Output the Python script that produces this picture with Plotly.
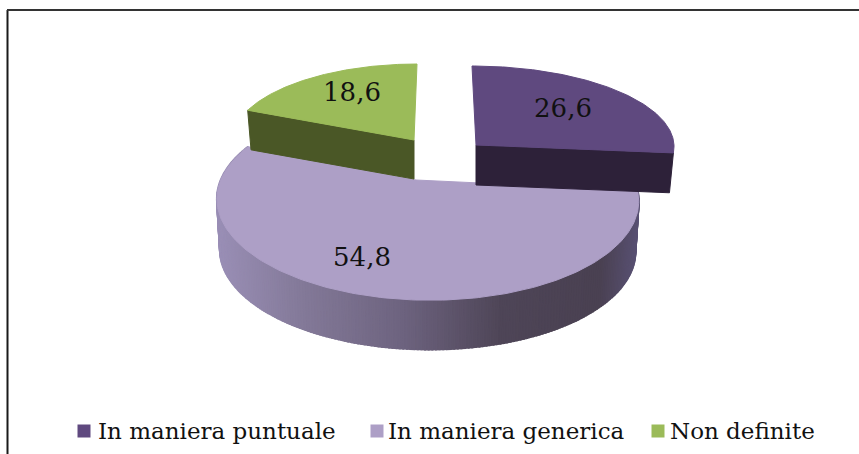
import numpy as np
import plotly.graph_objects as go

# data
categories = ["In maniera puntuale", "In maniera generica", "Non definite"]
values = [26.6, 54.8, 18.6]
value_labels = ["26,6", "54,8", "18,6"]

# colours
top_colors = ["#5f497f", "#ad9fc6", "#9bbb59"]
side_colors = ["#2d2139", None, "#4a5726"]
TEXT_COLOR = "#111111"
FONT = "DejaVu Serif"

# gradient on the outer wall of the big slice, left to right on screen
wall_x = [217, 300, 400, 500, 600, 640]
wall_rgb = [(154, 143, 182), (132, 122, 153), (110, 100, 128),
            (79, 70, 88), (74, 65, 82), (90, 82, 117)]

# each slice has its own projection on screen (apex, radii, perspective)
slice_views = [
    dict(ax=476, ay=145, b=198, a=79, k=0, m=0, lean=-4, depth=40, shrink=0.98),
    dict(ax=416, ay=180, b=206, a=96, k=0.2, m=-0.055, lean=0, depth=51, shrink=0.985),
    dict(ax=414, ay=140, b=182, a=76, k=0, m=0, lean=3, depth=39, shrink=0.98),
]
label_pos = [(563, 110), (362, 259), (352, 94)]
legend_marks = [84, 377, 658]
legend_text = [97, 387, 669]
LEGEND_Y = 431


def project(view, theta, floor=False):
    """Disc angle (clockwise from north) to page position."""
    u, v = np.sin(theta), np.cos(theta)
    den = 1 + view["k"] * v + view["m"] * u
    x = (view["b"] * u + view["lean"] * v) / den
    y = -view["a"] * v / den
    if floor:
        return view["ax"] + x * view["shrink"], view["ay"] + y * view["shrink"] + view["depth"]
    return view["ax"] + x, view["ay"] + y


def polygon(fig, xs, ys, color, width=1):
    fig.add_trace(go.Scatter(
        x=list(xs), y=list(ys), mode="lines", fill="toself", fillcolor=color,
        line=dict(color=color, width=width), hoverinfo="skip", showlegend=False,
    ))


# slice angles from the values
edges = np.radians(np.cumsum([0] + values) * 3.6)
spans = list(zip(edges[:-1], edges[1:]))

fig = go.Figure()

# outer wall of the big slice, as thin strips shaded by position
view = slice_views[1]
steps = np.linspace(spans[1][0], spans[1][1], 241)
for t0, t1 in zip(steps[:-1], steps[1:]):
    x0, y0 = project(view, t0)
    x1, y1 = project(view, t1)
    x2, y2 = project(view, t1, floor=True)
    x3, y3 = project(view, t0, floor=True)
    mid = (x0 + x1) / 2
    rgb = [np.interp(mid, wall_x, [c[i] for c in wall_rgb]) for i in range(3)]
    polygon(fig, [x0, x1, x2, x3, x0], [y0, y1, y2, y3, y0],
            "rgb(%d,%d,%d)" % tuple(rgb), width=2)

# big slice top
arc = np.linspace(spans[1][0], spans[1][1], 200)
px, py = project(view, arc)
polygon(fig, [view["ax"], *px, view["ax"]], [view["ay"], *py, view["ay"]], top_colors[1])

# the two pulled out slices: cut face, then top
for i, cut in ((2, spans[2][0]), (0, spans[0][1])):
    view = slice_views[i]
    tx, ty = project(view, cut)
    bx, by = project(view, cut, floor=True)
    polygon(fig,
            [view["ax"], tx, bx, view["ax"], view["ax"]],
            [view["ay"], ty, by, view["ay"] + view["depth"], view["ay"]],
            side_colors[i])
    arc = np.linspace(spans[i][0], spans[i][1], 120)
    px, py = project(view, arc)
    polygon(fig, [view["ax"], *px, view["ax"]], [view["ay"], *py, view["ay"]], top_colors[i])

# value labels
fig.add_trace(go.Scatter(
    x=[p[0] for p in label_pos], y=[p[1] for p in label_pos],
    mode="text", text=value_labels,
    textfont=dict(family=FONT, size=26, color=TEXT_COLOR),
    hoverinfo="skip", showlegend=False,
))

# legend row
fig.add_trace(go.Scatter(
    x=legend_marks, y=[LEGEND_Y] * 3, mode="markers",
    marker=dict(symbol="square", size=13, color=top_colors, line=dict(width=0)),
    hoverinfo="skip", showlegend=False,
))
for name, xpos in zip(categories, legend_text):
    fig.add_annotation(
        x=xpos, y=LEGEND_Y, text=name, showarrow=False, xanchor="left", yanchor="middle",
        xshift=-1, font=dict(family=FONT, size=23, color=TEXT_COLOR),
    )

# frame, open on the right and at the bottom
fig.add_shape(type="line", x0=7.5, x1=7.5, y0=10, y1=454, line=dict(color="#1a1a1a", width=2))
fig.add_shape(type="line", x0=7, x1=859, y0=10, y1=10, line=dict(color="#333333", width=2))

fig.update_xaxes(range=[0, 859], visible=False, fixedrange=True)
fig.update_yaxes(range=[454, 0], visible=False, fixedrange=True)
fig.update_layout(
    width=859, height=454, autosize=False,
    margin=dict(l=0, r=0, t=0, b=0),
    plot_bgcolor="white", paper_bgcolor="white",
    showlegend=False,
)

fig.write_html("out.html", config=dict(displayModeBar=False),
               post_script="document.body.style.margin='0';document.body.style.overflow='hidden';")
